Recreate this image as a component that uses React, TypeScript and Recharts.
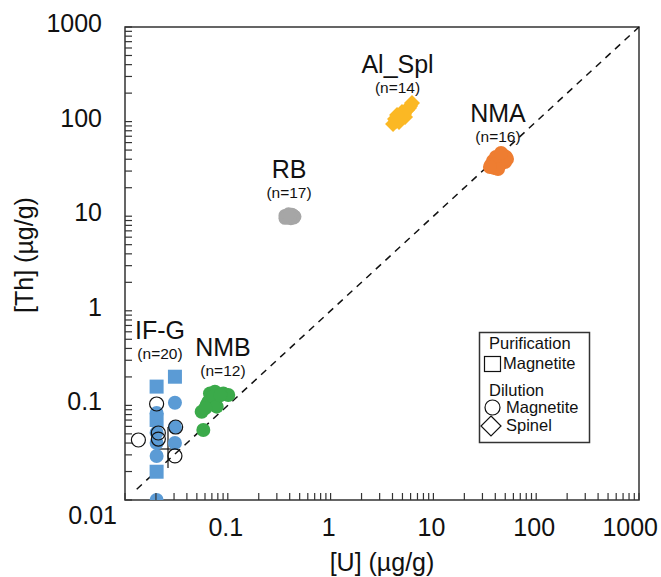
import React from 'react'
import { ScatterChart, Scatter, XAxis, YAxis, ReferenceLine, ReferenceArea } from 'recharts'

const FONT = '"Liberation Sans", Arial, sans-serif'

// decade ticks and their labels (both axes run 0.01 .. 1000, log)
const decadeTicks = [0.01, 0.1, 1, 10, 100, 1000]
const tickLabels = ['0.01', '0.1', '1', '10', '100', '1000']

// IF-G (n=20)
const ifgSquares = [
  { x: 0.0203, y: 0.158 },
  { x: 0.0306, y: 0.201 },
  { x: 0.0203, y: 0.0701 },
  { x: 0.0203, y: 0.0199 },
]
const ifgCircles = [
  { x: 0.0306, y: 0.1068 },
  { x: 0.0203, y: 0.0831 },
  { x: 0.0306, y: 0.0591 },
  { x: 0.0203, y: 0.0515 },
  { x: 0.0203, y: 0.0401 },
  { x: 0.0306, y: 0.0401 },
  { x: 0.0203, y: 0.0292 },
  { x: 0.0203, y: 0.01 },
]
const ifgOpen = [
  { x: 0.0203, y: 0.1035 },
  { x: 0.0135, y: 0.0431 },
  { x: 0.0211, y: 0.0511 },
  { x: 0.0211, y: 0.0441 },
  { x: 0.0311, y: 0.0591 },
  { x: 0.0306, y: 0.0292 },
]

// NMB (n=12)
const nmbPoints = [
  { x: 0.0578, y: 0.055 },
  { x: 0.0557, y: 0.0858 },
  { x: 0.0623, y: 0.101 },
  { x: 0.0671, y: 0.134 },
  { x: 0.075, y: 0.1396 },
  { x: 0.0904, y: 0.134 },
  { x: 0.101, y: 0.129 },
  { x: 0.0646, y: 0.109 },
  { x: 0.0723, y: 0.124 },
  { x: 0.078, y: 0.097 },
  { x: 0.0845, y: 0.128 },
  { x: 0.0605, y: 0.094 },
]

// RB (n=17)
const rbPoints = [
  { x: 0.36, y: 10.2 }, { x: 0.38, y: 9.6 }, { x: 0.4, y: 10.4 }, { x: 0.42, y: 9.8 },
  { x: 0.44, y: 10.1 }, { x: 0.37, y: 9.9 }, { x: 0.39, y: 10.6 }, { x: 0.41, y: 9.4 },
  { x: 0.43, y: 10.3 }, { x: 0.45, y: 9.9 }, { x: 0.38, y: 10.0 }, { x: 0.4, y: 9.7 },
  { x: 0.42, y: 10.5 }, { x: 0.36, y: 9.5 }, { x: 0.44, y: 9.6 }, { x: 0.41, y: 10.0 },
  { x: 0.39, y: 10.2 },
]

// Al_Spl (n=14)
const alSplPoints = [
  { x: 4.05, y: 94.4 }, { x: 4.33, y: 101.4 }, { x: 4.53, y: 109.1 }, { x: 4.84, y: 114.6 },
  { x: 5.18, y: 120.3 }, { x: 5.54, y: 132.6 }, { x: 5.93, y: 146.3 }, { x: 6.19, y: 157.4 },
  { x: 4.23, y: 106.4 }, { x: 4.95, y: 126.3 }, { x: 5.3, y: 111.9 }, { x: 4.63, y: 99.0 },
  { x: 5.79, y: 139.3 }, { x: 4.43, y: 117.4 },
]

// NMA (n=16)
const nmaPoints = [
  { x: 36.3, y: 34.8 }, { x: 38.8, y: 32.4 }, { x: 41.6, y: 36.5 }, { x: 44.5, y: 41.2 },
  { x: 47.5, y: 44.4 }, { x: 50.8, y: 42.3 }, { x: 49.7, y: 37.4 }, { x: 43.5, y: 34.0 },
  { x: 38.0, y: 38.4 }, { x: 40.6, y: 42.3 }, { x: 46.5, y: 38.4 }, { x: 52.0, y: 40.3 },
  { x: 39.7, y: 35.6 }, { x: 45.5, y: 46.6 }, { x: 42.5, y: 31.6 }, { x: 35.5, y: 33.1 },
]

// mean +/- spread crosses: [xlo, xmean, xhi, ylo, ymean, yhi]
const crosses = [
  [0.0196, 0.0262, 0.0328, 0.0218, 0.0346, 0.0591],
  [0.0635, 0.0671, 0.0715, 0.091, 0.097, 0.101],
  [0.368, 0.394, 0.421, 9.35, 10.05, 10.8],
  [4.33, 4.73, 5.18, 104, 114.6, 126],
  [37.1, 40.6, 44.4, 34.8, 38.4, 42.3],
]

// group annotations (anchored at the name's baseline centre)
const groupLabels = [
  { name: 'IF-G', n: 'n=20', x: 0.0219, y: 0.503 },
  { name: 'NMB', n: 'n=12', x: 0.0897, y: 0.333 },
  { name: 'RB', n: 'n=17', x: 0.394, y: 25.3 },
  { name: 'Al_Spl', n: 'n=14', x: 4.48, y: 326 },
  { name: 'NMA', n: 'n=16', x: 42.5, y: 100 },
]

const allTicks: number[] = []
decadeTicks.slice(0, -1).forEach((d) => {
  for (let m = 1; m < 10; m++) allTicks.push(+(d * m).toPrecision(6))
})
allTicks.push(1000)

const labelFor = (v: number) => {
  const i = decadeTicks.findIndex((d) => Math.abs(d - v) < d * 1e-6)
  return i >= 0 ? tickLabels[i] : null
}

const YTick = (props: any) => {
  const { x, y, payload } = props
  const lab = labelFor(payload.value)
  return (
    <g>
      <line x1={x} x2={x + 7} y1={y} y2={y} stroke="#333" strokeWidth={1.2} />
      {lab && lab === '0.01' && (
        <text x={x - 8} y={y + 24} textAnchor="end" fontSize={25} fontFamily={FONT} fill="#111">{lab}</text>
      )}
      {lab && lab !== '0.01' && (
        <text x={x - 23} y={y + 5} textAnchor="end" fontSize={25} fontFamily={FONT} fill="#111">{lab}</text>
      )}
    </g>
  )
}

const XTick = (props: any) => {
  const { x, y, payload } = props
  const lab = labelFor(payload.value)
  const last = lab === '1000'
  return (
    <g>
      <line x1={x} x2={x} y1={y} y2={y - 7} stroke="#333" strokeWidth={1.2} />
      {lab && lab !== '0.01' && (
        <text
          x={last ? x + 19 : x - 2} y={y + 36} textAnchor={last ? 'end' : 'middle'}
          fontSize={25} fontFamily={FONT} fill="#111"
        >{lab}</text>
      )}
    </g>
  )
}

const dot = (fill: string, r = 7) => (p: any) => <circle cx={p.cx} cy={p.cy} r={r} fill={fill} />
const openDot = (p: any) => <circle cx={p.cx} cy={p.cy} r={7} fill="none" stroke="#111" strokeWidth={1.2} />
const square = (p: any) => <rect x={p.cx - 7} y={p.cy - 7} width={14} height={14} fill="#5B9BD5" />
const diamond = (p: any) => (
  <polygon
    points={`${p.cx},${p.cy - 8} ${p.cx + 8},${p.cy} ${p.cx},${p.cy + 8} ${p.cx - 8},${p.cy}`}
    fill="#FBB824"
  />
)
const groupText = (p: any) => (
  <g fontFamily={FONT} fill="#111" textAnchor="middle">
    <text x={p.cx} y={p.cy} fontSize={25}>{p.payload.name}</text>
    <text x={p.cx} y={p.cy + 20} fontSize={15.5}>({p.payload.n})</text>
  </g>
)

export default function App() {
  return (
    <div style={{ position: 'absolute', left: 0, top: 0, width: 661, height: 577, background: '#fff' }}>
      <ScatterChart width={661} height={577} margin={{ top: 27, right: 22, bottom: 17, left: 25 }}>
        <XAxis
          type="number" dataKey="x" scale="log" domain={[0.01, 1000]} allowDataOverflow
          ticks={allTicks} interval={0} tick={<XTick />} tickSize={0} tickMargin={0}
          tickLine={false} axisLine={false} height={60}
        />
        <YAxis
          type="number" dataKey="y" scale="log" domain={[0.01, 1000]} allowDataOverflow
          ticks={allTicks} interval={0} tick={<YTick />} tickSize={0} tickMargin={0}
          tickLine={false} axisLine={false} width={100}
        />
        <ReferenceArea x1={0.01} x2={1000} y1={0.01} y2={1000} fill="none" fillOpacity={0} stroke="#333" strokeWidth={1.5} />
        <ReferenceLine
          segment={[{ x: 0.013, y: 0.013 }, { x: 1000, y: 1000 }]}
          stroke="#111" strokeWidth={1.5} strokeDasharray="7 6"
        />
        <Scatter data={ifgSquares} shape={square} isAnimationActive={false} />
        <Scatter data={ifgCircles} shape={dot('#5B9BD5')} isAnimationActive={false} />
        <Scatter data={ifgOpen} shape={openDot} isAnimationActive={false} />
        <Scatter data={nmbPoints} shape={dot('#3BAA4A')} isAnimationActive={false} />
        <Scatter data={rbPoints} shape={dot('#A6A6A6', 6.5)} isAnimationActive={false} />
        <Scatter data={alSplPoints} shape={diamond} isAnimationActive={false} />
        <Scatter data={nmaPoints} shape={dot('#EE7D31')} isAnimationActive={false} />
        {crosses.map((c, i) => (
          <ReferenceLine key={'h' + i} segment={[{ x: c[0], y: c[4] }, { x: c[2], y: c[4] }]} stroke="#111" strokeWidth={1.2} />
        ))}
        {crosses.map((c, i) => (
          <ReferenceLine key={'v' + i} segment={[{ x: c[1], y: c[3] }, { x: c[1], y: c[5] }]} stroke="#111" strokeWidth={1.2} />
        ))}
        <Scatter data={groupLabels} shape={groupText} isAnimationActive={false} />
      </ScatterChart>
      <svg width={661} height={577} style={{ position: 'absolute', left: 0, top: 0, pointerEvents: 'none' }}>
        <g fontFamily={FONT} fill="#111">
          <text x={382} y={571} textAnchor="middle" fontSize={25}>[U] (µg/g)</text>
          <text x={33} y={255} textAnchor="middle" fontSize={25} transform="rotate(-90 33 255)">[Th] (µg/g)</text>
        </g>
        <g fontFamily={FONT} fontSize={16.5} fill="#111">
          <rect x={479.5} y={332.5} width={110} height={110} fill="#fff" stroke="#333" strokeWidth={1.5} />
          <text x={489} y={349}>Purification</text>
          <rect x={484.5} y={356.5} width={16} height={15} fill="none" stroke="#111" strokeWidth={1.2} />
          <text x={503} y={369}>Magnetite</text>
          <text x={489} y={396}>Dilution</text>
          <circle cx={492.5} cy={407.5} r={7.5} fill="none" stroke="#111" strokeWidth={1.2} />
          <text x={506} y={413}>Magnetite</text>
          <polygon points="491,416 501,426 491,436 481,426" fill="none" stroke="#111" strokeWidth={1.2} />
          <text x={506} y={431}>Spinel</text>
        </g>
      </svg>
    </div>
  )
}
